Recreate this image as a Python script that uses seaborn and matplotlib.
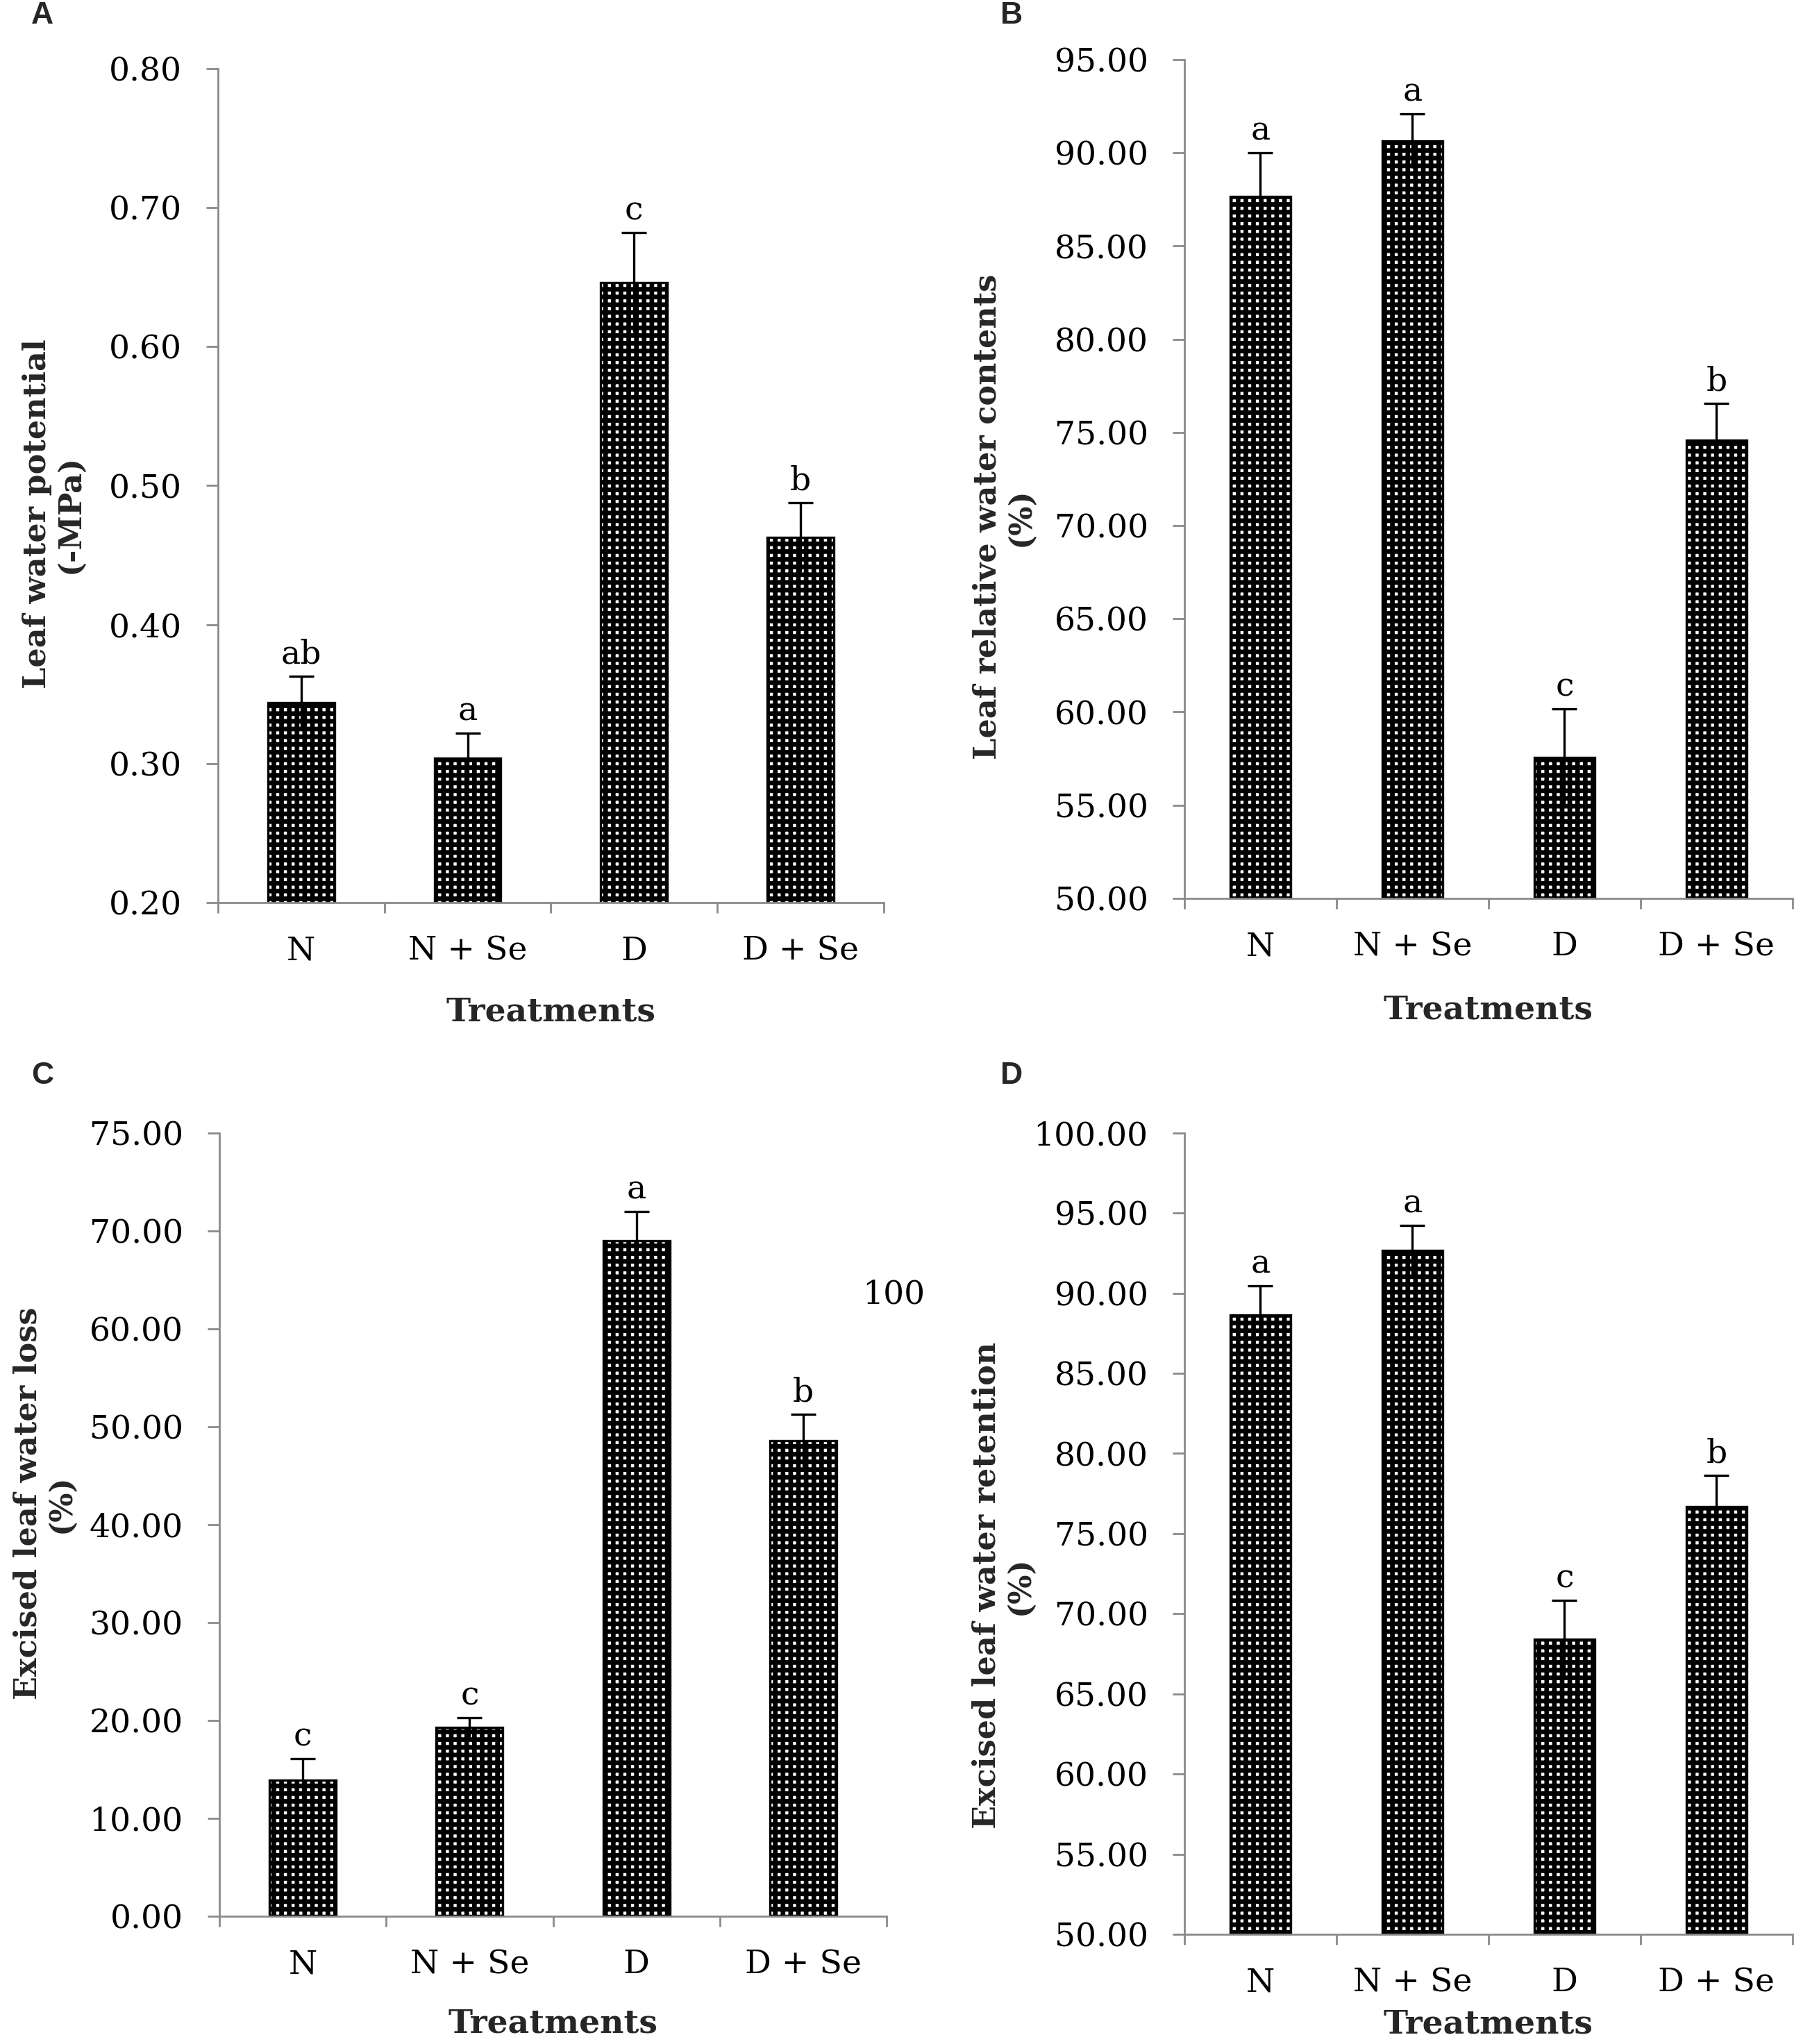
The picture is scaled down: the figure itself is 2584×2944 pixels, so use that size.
import numpy as np
import pandas as pd
import matplotlib
matplotlib.use("Agg")
import matplotlib.pyplot as plt
import seaborn as sns
from matplotlib.ticker import FixedLocator

# ---------------- data ----------------
treatments = ["N", "N + Se", "D", "D + Se"]

lwp_mean = [0.344, 0.304, 0.646, 0.463]
lwp_err = [0.019, 0.018, 0.036, 0.025]
lwp_letters = ["ab", "a", "c", "b"]
lwp_ticks = [0.20, 0.30, 0.40, 0.50, 0.60, 0.70, 0.80]
lwp_ticklabels = ["0.20", "0.30", "0.40", "0.50", "0.60", "0.70", "0.80"]

rwc_mean = [87.65, 90.64, 57.56, 74.59]
rwc_err = [2.35, 1.47, 2.60, 1.97]
rwc_letters = ["a", "a", "c", "b"]
rwc_ticks = [50, 55, 60, 65, 70, 75, 80, 85, 90, 95]
rwc_ticklabels = ["50.00", "55.00", "60.00", "65.00", "70.00", "75.00",
                  "80.00", "85.00", "90.00", "95.00"]

ewl_mean = [13.9, 19.3, 69.0, 48.6]
ewl_err = [2.2, 1.0, 3.0, 2.7]
ewl_letters = ["c", "c", "a", "b"]
ewl_ticks = [0, 10, 20, 30, 40, 50, 60, 70, 80]
ewl_ticklabels = ["0.00", "10.00", "20.00", "30.00", "40.00", "50.00",
                  "60.00", "70.00", "75.00"]

ewr_mean = [88.66, 92.68, 68.41, 76.67]
ewr_err = [1.80, 1.55, 2.44, 1.95]
ewr_letters = ["a", "a", "c", "b"]
ewr_ticks = [50, 55, 60, 65, 70, 75, 80, 85, 90, 95, 100]
ewr_ticklabels = ["50.00", "55.00", "60.00", "65.00", "70.00", "75.00",
                  "80.00", "85.00", "90.00", "95.00", "100.00"]

panel_letters = ["A", "B", "C", "D"]
ylabels = ["Leaf water potential\n(-MPa)",
           "Leaf relative water contents\n(%)",
           "Excised leaf water loss\n(%)",
           "Excised leaf water retention\n(%)"]
xlabel = "Treatments"
stray_text = "100"

# ---------------- style ----------------
sns.set_theme(style="white")
plt.rcParams["font.family"] = ["DejaVu Serif"]
plt.rcParams["hatch.linewidth"] = 2.4
AXIS_GRAY = "#8a8a8a"
TICK_FS = 17

fig = plt.figure(figsize=(12.92, 14.72), dpi=200)

panels = [
    dict(rect=[0.1215, 0.5584, 0.3711, 0.4080], mean=lwp_mean, err=lwp_err,
         letters=lwp_letters, ticks=lwp_ticks, tl=lwp_ticklabels,
         ylim=(0.20, 0.80), ylx=-0.247, yly=0.466, xly=-0.131),
    dict(rect=[0.6602, 0.5605, 0.3390, 0.4103], mean=rwc_mean, err=rwc_err,
         letters=rwc_letters, ticks=rwc_ticks, tl=rwc_ticklabels,
         ylim=(50, 95), ylx=-0.297, yly=0.455, xly=-0.133),
    dict(rect=[0.1223, 0.0625, 0.3719, 0.3832], mean=ewl_mean, err=ewl_err,
         letters=ewl_letters, ticks=ewl_ticks, tl=ewl_ticklabels,
         ylim=(0, 80), ylx=-0.262, yly=0.527, xly=-0.137),
    dict(rect=[0.6602, 0.0537, 0.3390, 0.3920], mean=ewr_mean, err=ewr_err,
         letters=ewr_letters, ticks=ewr_ticks, tl=ewr_ticklabels,
         ylim=(50, 100), ylx=-0.298, yly=0.435, xly=-0.112),
]

for p, ylab in zip(panels, ylabels):
    ax = fig.add_axes(p["rect"])
    df = pd.DataFrame({"Treatment": treatments, "Value": p["mean"]})
    sns.barplot(data=df, x="Treatment", y="Value", order=treatments,
                color="white", width=0.4, errorbar=None, ax=ax)
    for bar in ax.patches:
        bar.set_facecolor("white")
        bar.set_edgecolor("black")
        bar.set_hatch("+++")
        bar.set_linewidth(1.2)
    xs = np.arange(len(treatments))
    eb = ax.errorbar(xs, p["mean"], yerr=p["err"], fmt="none", ecolor="black",
                     elinewidth=1.2, capsize=6.5, capthick=1.2, zorder=5)
    eb[1][0].set_visible(False)
    for x, m, e, lt in zip(xs, p["mean"], p["err"], p["letters"]):
        ax.annotate(lt, xy=(x, m + e), xytext=(0, 3), textcoords="offset points",
                    ha="center", va="bottom", fontsize=TICK_FS, color="black")

    ax.set_xlim(-0.5, 3.5)
    ax.set_ylim(*p["ylim"])
    ax.yaxis.set_major_locator(FixedLocator(p["ticks"]))
    ax.set_yticklabels(p["tl"])
    ax.xaxis.set_minor_locator(FixedLocator([-0.5, 0.5, 1.5, 2.5, 3.5]))
    ax.tick_params(axis="x", which="major", length=0, pad=17, labelsize=TICK_FS,
                   labelcolor="black")
    ax.tick_params(axis="x", which="minor", length=5.5, width=1.0,
                   direction="out", color=AXIS_GRAY, bottom=True)
    ax.tick_params(axis="y", which="major", length=6.3, width=1.0,
                   direction="out", color=AXIS_GRAY, left=True, pad=12.5,
                   labelsize=TICK_FS, labelcolor="black")
    for s in ["top", "right"]:
        ax.spines[s].set_visible(False)
    for s in ["left", "bottom"]:
        ax.spines[s].set_color(AXIS_GRAY)
        ax.spines[s].set_linewidth(1.0)

    ax.set_xlabel(xlabel, fontsize=17, fontweight="bold", va="center")
    ax.xaxis.set_label_coords(0.5, p["xly"])
    ax.set_ylabel(ylab, fontsize=16, fontweight="bold", va="center",
                  linespacing=1.15)
    ax.yaxis.set_label_coords(p["ylx"], p["yly"])
    ax.grid(False)

letter_pos = [(0.0236, 0.9925), (0.5639, 0.9925), (0.0238, 0.4738), (0.5639, 0.4738)]
for lt, (x, y) in zip(panel_letters, letter_pos):
    fig.text(x, y, lt, ha="center", va="center", fontsize=16, fontweight="bold",
             family=["Liberation Sans", "DejaVu Sans"])

fig.text(0.498, 0.3665, stray_text, ha="center", va="center", fontsize=TICK_FS,
         color="black")

fig.savefig("out.png", dpi=200)
